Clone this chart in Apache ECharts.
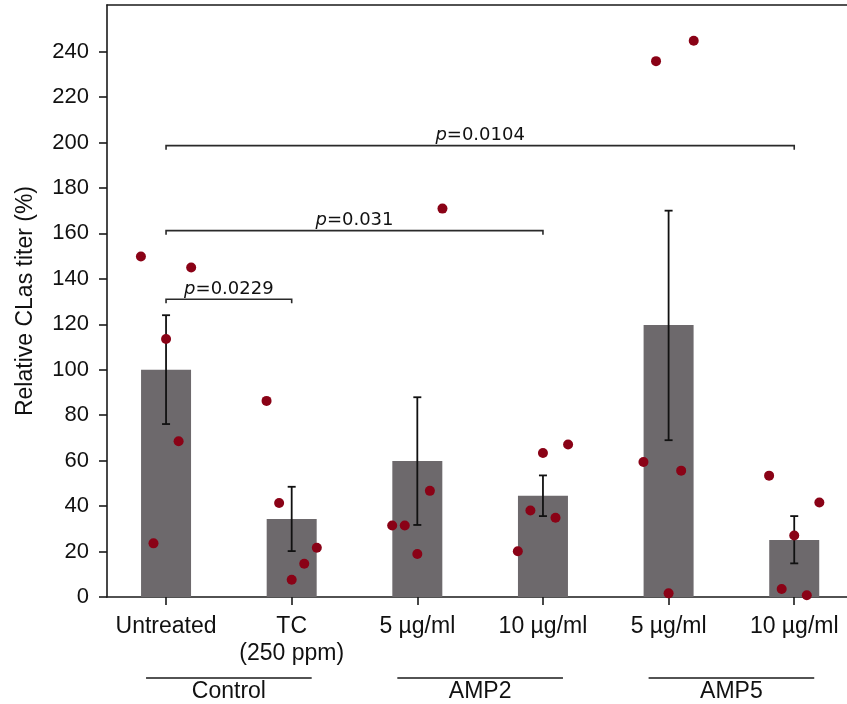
<!DOCTYPE html>
<html>
<head>
<meta charset="utf-8">
<title>Relative CLas titer</title>
<script src="https://cdn.jsdelivr.net/npm/echarts@6/dist/echarts.min.js"></script>
<style>
  html, body { margin: 0; padding: 0; background: #fff; }
  #chart { width: 847px; height: 704px; }
</style>
</head>
<body>
<div id="chart"></div>
<script>
// categories along the x axis (two groups per treatment)
const categories = ['Untreated', 'TC\n(250 ppm)', '5 µg/ml', '10 µg/ml', '5 µg/ml', '10 µg/ml']
const groupNames = ['Control', 'AMP2', 'AMP5']
const groupSpans = [[0, 1], [2, 3], [4, 5]]

// bar means and error bar ends
const means = [100, 34.3, 59.8, 44.6, 119.7, 25.1]
const errLow = [76.1, 20.2, 31.7, 35.6, 69, 14.8]
const errHigh = [124, 48.5, 87.9, 53.5, 170, 35.6]

// individual points per category + their horizontal jitter
const dotValues = [
  [149.8, 145, 113.5, 68.5, 23.6],
  [86.3, 41.4, 21.7, 14.6, 7.6],
  [31.5, 31.5, 46.7, 18.9, 170.9],
  [63.4, 67.1, 38.1, 34.9, 20.1],
  [235.8, 244.8, 59.4, 55.6, 1.6],
  [53.4, 41.6, 27.1, 3.5, 0.8]
]
const dotJitter = [
  [-0.2, 0.2, 0, 0.1, -0.1],
  [-0.2, -0.1, 0.2, 0.1, 0],
  [-0.2, -0.1, 0.1, 0, 0.2],
  [0, 0.2, -0.1, 0.1, -0.2],
  [-0.1, 0.2, -0.2, 0.1, 0],
  [-0.2, 0.2, 0, -0.1, 0.1]
]

// significance brackets: [from, to, height], and p values
const brackets = [[0, 1, 131], [0, 3, 161.2], [0, 5, 198.6]]
const pValues = ['0.0229', '0.031', '0.0104']

const yTicks = [0, 20, 40, 60, 80, 100, 120, 140, 160, 180, 200, 220, 240]
const xTicks = [0, 1, 2, 3, 4, 5]

const axisColor = '#1a1a1a'
const textColor = '#111'
const sansFont = 'Liberation Sans, Arial, sans-serif'

const chart = echarts.init(document.getElementById('chart'), null, { renderer: 'canvas' })

const barData = means.map((v, i) => [i, v])
const errData = means.map((v, i) => [i, errLow[i], errHigh[i]])
const dotData = []
dotValues.forEach((arr, i) => {
  arr.forEach((v, k) => {
    dotData.push([i + dotJitter[i][k], v])
  })
})

chart.setOption({
  animation: false,
  grid: { left: 107, right: 0, top: 5, bottom: 107 },
  xAxis: [{
    type: 'value',
    min: -0.47,
    max: 5.42,
    axisLine: { onZero: false, lineStyle: { color: axisColor, width: 1.6 } },
    axisTick: { customValues: xTicks, length: 8, lineStyle: { color: axisColor, width: 1.6 } },
    axisLabel: {
      customValues: xTicks,
      formatter: v => categories[Math.round(v)],
      color: textColor,
      fontFamily: sansFont,
      fontSize: 23,
      lineHeight: 27,
      margin: 16
    },
    splitLine: { show: false }
  }, {
    // top spine only
    type: 'value',
    position: 'top',
    min: -0.47,
    max: 5.42,
    axisLine: { onZero: false, lineStyle: { color: axisColor, width: 1.6 } },
    axisTick: { show: false },
    axisLabel: { show: false },
    splitLine: { show: false }
  }],
  yAxis: {
    type: 'value',
    min: 0,
    max: 260.5,
    name: 'Relative CLas titer (%)',
    nameLocation: 'middle',
    nameGap: 70,
    nameTextStyle: { color: textColor, fontFamily: sansFont, fontSize: 23 },
    axisLine: { show: true, onZero: false, lineStyle: { color: axisColor, width: 1.6 } },
    axisTick: { show: true, customValues: yTicks, length: 8, lineStyle: { color: axisColor, width: 1.6 } },
    axisLabel: { customValues: yTicks, color: textColor, fontFamily: sansFont, fontSize: 22, margin: 18 },
    splitLine: { show: false }
  },
  series: [{
    name: 'mean',
    type: 'bar',
    data: barData,
    barWidth: 50,
    itemStyle: { color: '#6d696c' },
    z: 2
  }, {
    name: 'sem',
    type: 'custom',
    data: errData,
    z: 3,
    renderItem(params, api) {
      const x = api.value(0)
      const top = api.coord([x, api.value(2)])
      const bot = api.coord([x, api.value(1)])
      const cap = 4
      const st = { stroke: '#111', lineWidth: 1.8 }
      return {
        type: 'group',
        children: [
          { type: 'line', shape: { x1: top[0], y1: top[1], x2: bot[0], y2: bot[1] }, style: st },
          { type: 'line', shape: { x1: top[0] - cap, y1: top[1], x2: top[0] + cap, y2: top[1] }, style: st },
          { type: 'line', shape: { x1: bot[0] - cap, y1: bot[1], x2: bot[0] + cap, y2: bot[1] }, style: st }
        ]
      }
    }
  }, {
    name: 'points',
    type: 'scatter',
    data: dotData,
    symbolSize: 10,
    itemStyle: { color: '#8a0216', opacity: 1 },
    z: 4
  }, {
    name: 'brackets',
    type: 'custom',
    data: brackets,
    z: 5,
    renderItem(params, api) {
      const a = api.coord([api.value(0), api.value(2)])
      const b = api.coord([api.value(1), api.value(2)])
      const st = { stroke: '#2a2a2a', lineWidth: 1.6 }
      return {
        type: 'group',
        children: [
          { type: 'polyline', shape: { points: [[a[0], a[1] + 4], a, b, [b[0], b[1] + 4]] }, style: Object.assign({ fill: null }, st) },
          {
            type: 'text',
            x: (a[0] + b[0]) / 2,
            y: a[1] - 1,
            style: {
              text: '{i|p}=' + pValues[params.dataIndex],
              align: 'center',
              verticalAlign: 'bottom',
              fill: textColor,
              fontFamily: 'DejaVu Sans',
              fontSize: 18,
              rich: {
                i: { fontStyle: 'italic', fontFamily: 'DejaVu Sans', fontSize: 18, fill: textColor }
              }
            }
          }
        ]
      }
    }
  }, {
    // group labels under the axis
    name: 'groups',
    type: 'custom',
    data: groupSpans,
    clip: false,
    silent: true,
    renderItem(params, api) {
      const a = api.coord([api.value(0), 0])
      const b = api.coord([api.value(1), 0])
      const y = a[1] + 81
      return {
        type: 'group',
        children: [
          { type: 'line', shape: { x1: a[0] - 20, y1: y, x2: b[0] + 20, y2: y }, style: { stroke: '#1a1a1a', lineWidth: 1.6 } },
          {
            type: 'text',
            x: (a[0] + b[0]) / 2,
            y: y + 14,
            style: {
              text: groupNames[params.dataIndex],
              align: 'center',
              verticalAlign: 'middle',
              fill: textColor,
              fontFamily: sansFont,
              fontSize: 23
            }
          }
        ]
      }
    }
  }]
})
</script>
</body>
</html>
